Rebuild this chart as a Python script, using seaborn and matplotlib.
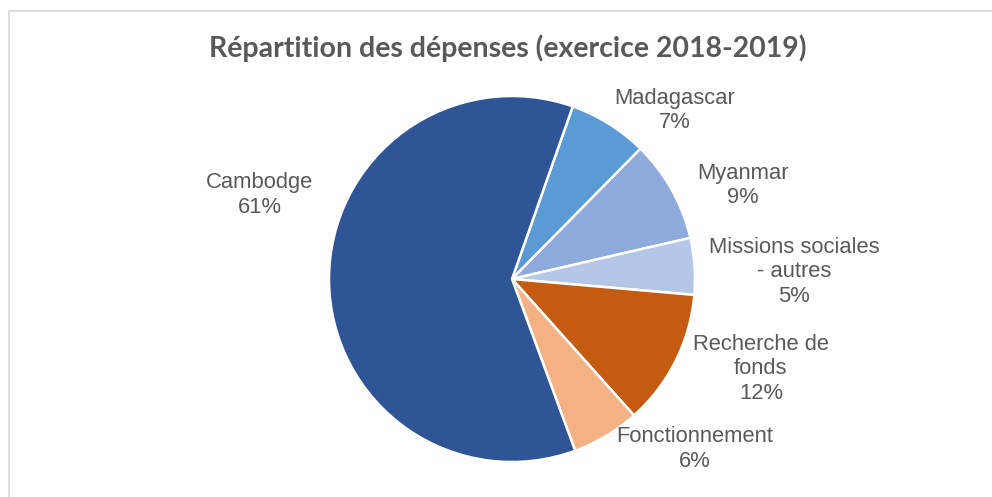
import matplotlib
matplotlib.use("Agg")
import matplotlib.pyplot as plt
import seaborn as sns
from matplotlib.patches import Rectangle

# Data
categories = ["Madagascar", "Myanmar", "Missions sociales\n- autres",
              "Recherche de\nfonds", "Fonctionnement", "Cambodge"]
shares = [7, 9, 5, 12, 6, 61]
colors = ["#5B9BD5", "#8FAADC", "#B4C7E7", "#C55A11", "#F4B183", "#2F5597"]

# label centres (data units, pie radius = 1)
label_xy = [(0.89, 0.92), (1.26, 0.51), (1.54, 0.04),
            (1.36, -0.49), (1.00, -0.93), (-1.38, 0.46)]

sns.set_theme(style="white")
plt.rcParams["font.family"] = ["Liberation Sans", "DejaVu Sans"]

W, H = 992, 497
cx, cy, R = 512, 279, 183
fig = plt.figure(figsize=(W / 100, H / 100), dpi=100)
ax = fig.add_axes([0, 0, 1, 1])

ax.pie(shares, colors=colors, startangle=90 - 19.4, counterclock=False,
       radius=1, center=(0, 0), frame=True,
       wedgeprops=dict(edgecolor="white", linewidth=1.8))
ax.set_xlim(-cx / R, (W - cx) / R)
ax.set_ylim(-(H - cy) / R, cy / R)
ax.set_aspect("equal")
ax.axis("off")

for name, val, (x, y) in zip(categories, shares, label_xy):
    ax.text(x, y, f"{name}\n{val}%", ha="center", va="center",
            multialignment="center", fontsize=15.8, color="#595959",
            linespacing=1.22)

fig.text(508 / W, 1 - 57 / H, "Répartition des dépenses (exercice 2018-2019)",
         ha="center", va="baseline", fontsize=20.5, fontweight="bold",
         color="#595959", family=["Lato", "DejaVu Sans"])

fig.patches.append(Rectangle((8.5 / W, -0.1), 1.2, 1 - 10.5 / H + 0.1,
                             transform=fig.transFigure, fill=False,
                             edgecolor="#D9D9D9", linewidth=1.2))

fig.savefig("out.png", dpi=100)
